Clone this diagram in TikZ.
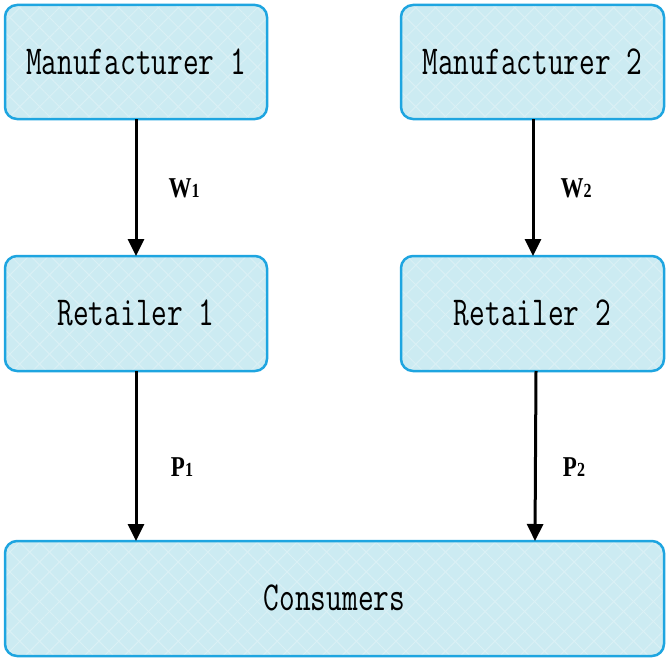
\documentclass[tikz,border=0pt]{standalone}
\usepackage{fontspec}
\setmainfont{Liberation Serif}
\usetikzlibrary{arrows.meta,patterns.meta}
\definecolor{boxfill}{HTML}{CCEBF2}
\definecolor{hatch}{HTML}{DAF0F5}
\definecolor{boxline}{HTML}{1EA5E0}
\tikzset{
  entity/.style={rounded corners=12pt,
    preaction={fill=boxfill},
    preaction={pattern={Lines[angle=45,distance=14pt,line width=1pt]}, pattern color=hatch},
    preaction={pattern={Lines[angle=-45,distance=14pt,line width=1pt]}, pattern color=hatch},
    draw=boxline, line width=2.5pt},
  boxtext/.style={font=\ttfamily\fontsize{30.5}{34}\selectfont, yscale=1.35},
  flow/.style={line width=3pt, -{Triangle[length=17pt,width=16pt]}},
  lbl/.style={font=\fontsize{23}{26}\selectfont\bfseries, yscale=1.25}
}
\newcommand{\sublbl}[2]{#1{\fontsize{16}{16}\selectfont #2}}
\begin{document}
\begin{tikzpicture}[x=1pt,y=-1pt]
\useasboundingbox (0,0) rectangle (669,661);
% boxes
\draw[entity] (5,5) rectangle (267,119);
\draw[entity] (401,5) rectangle (664,119);
\draw[entity] (5,256) rectangle (267,371);
\draw[entity] (401,256) rectangle (664,371);
\draw[entity] (5,541) rectangle (664,656);
\node[boxtext] (m1) at (136,62) {Manufacturer 1};
\node[boxtext] (m2) at (532.5,62) {Manufacturer 2};
\node[boxtext] (r1) at (136,313) {Retailer 1};
\node[boxtext] (r2) at (532.5,313) {Retailer 2};
\node[boxtext] (c) at (334.5,598) {Consumers};
% anchors
\coordinate (m1b) at (136,119);
\coordinate (r1t) at (136,256);
\coordinate (m2b) at (533,119);
\coordinate (r2t) at (533,256);
\coordinate (r1b) at (136,371);
\coordinate (c1) at (136,541);
\coordinate (r2b) at (536,371);
\coordinate (c2) at (535,541);
\draw[flow] (m1b) -- (r1t);
\draw[flow] (m2b) -- (r2t);
\draw[flow] (r1b) -- (c1);
\draw[flow] (r2b) -- (c2);
\node[lbl] (w1) at (184,188) {\sublbl{W}{1}};
\node[lbl] (w2) at (576,188) {\sublbl{W}{2}};
\node[lbl] (p1) at (182,467) {\sublbl{P}{1}};
\node[lbl] (p2) at (574,467) {\sublbl{P}{2}};
\end{tikzpicture}
\end{document}
